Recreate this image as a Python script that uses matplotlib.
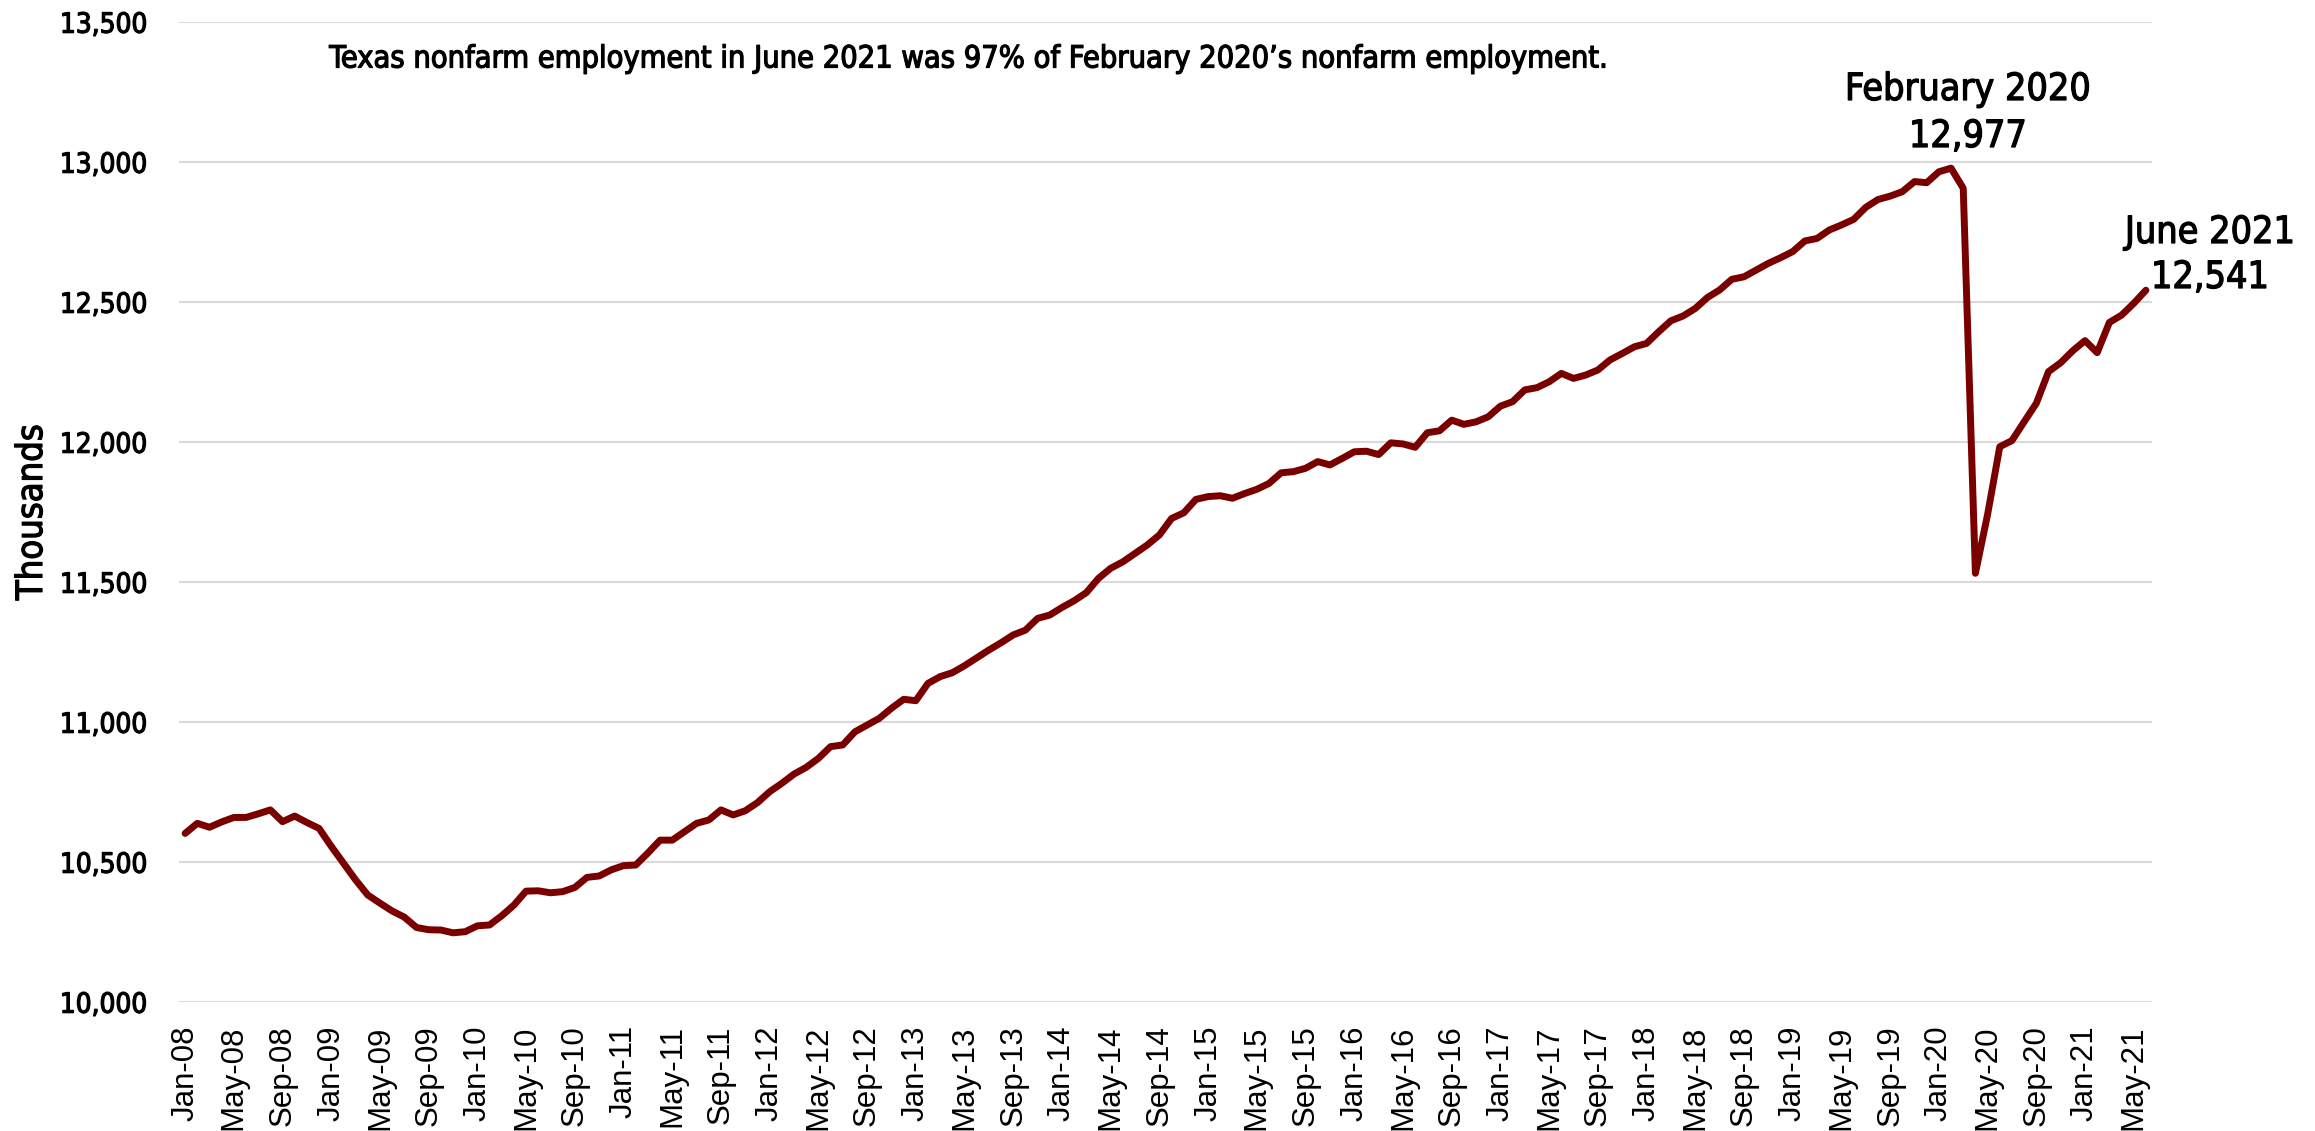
import matplotlib
matplotlib.use("Agg")
import matplotlib.pyplot as plt
import matplotlib.patheffects as pe
from matplotlib.font_manager import FontProperties

# ---- data (thousands, monthly Jan-2008 .. Jun-2021) ----
employment = [
    10601, 10637, 10623, 10642, 10658, 10658, 10671, 10685, 10643, 10663, 10640, 10619,  # 2008
    10555, 10495, 10435, 10381, 10352, 10324, 10302, 10265, 10257, 10256, 10246, 10250,  # 2009
    10271, 10274, 10307, 10345, 10395, 10396, 10389, 10393, 10408, 10444, 10449, 10471,  # 2010
    10486, 10488, 10531, 10577, 10577, 10607, 10637, 10649, 10685, 10667, 10682, 10711,  # 2011
    10750, 10780, 10813, 10837, 10869, 10911, 10917, 10964, 10988, 11012, 11048, 11080,  # 2012
    11075, 11137, 11161, 11175, 11200, 11228, 11256, 11282, 11310, 11327, 11369, 11381,  # 2013
    11408, 11432, 11461, 11512, 11548, 11571, 11601, 11631, 11667, 11726, 11746, 11794,  # 2014
    11804, 11807, 11798, 11815, 11830, 11851, 11889, 11893, 11905, 11929, 11917, 11940,  # 2015
    11964, 11966, 11954, 11996, 11992, 11980, 12032, 12039, 12077, 12062, 12071, 12089,  # 2016
    12127, 12143, 12185, 12193, 12214, 12244, 12226, 12238, 12256, 12292, 12315, 12339,  # 2017
    12351, 12393, 12432, 12449, 12476, 12515, 12542, 12580, 12589, 12613, 12637, 12657,  # 2018
    12679, 12717, 12726, 12756, 12774, 12794, 12837, 12865, 12877, 12893, 12929, 12925,  # 2019
    12964, 12977, 12905, 11530, 11740, 11982, 12004, 12071, 12137, 12250, 12282, 12325,  # 2020
    12361, 12318, 12426, 12452, 12494, 12541,                                            # 2021
]

tick_labels = [
    "Jan-08", "May-08", "Sep-08", "Jan-09", "May-09", "Sep-09", "Jan-10", "May-10",
    "Sep-10", "Jan-11", "May-11", "Sep-11", "Jan-12", "May-12", "Sep-12", "Jan-13",
    "May-13", "Sep-13", "Jan-14", "May-14", "Sep-14", "Jan-15", "May-15", "Sep-15",
    "Jan-16", "May-16", "Sep-16", "Jan-17", "May-17", "Sep-17", "Jan-18", "May-18",
    "Sep-18", "Jan-19", "May-19", "Sep-19", "Jan-20", "May-20", "Sep-20", "Jan-21",
    "May-21",
]
tick_step = 4

y_ticks = [10000, 10500, 11000, 11500, 12000, 12500, 13000, 13500]

title_text = "Texas nonfarm employment in June 2021 was 97% of February 2020\u2019s nonfarm employment."
peak_label = ("February 2020", "12,977")
last_label = ("June 2021", "12,541")

# ---- styling ----
LINE_COLOR = "#7A0000"
GRID_COLOR = "#D9D9D9"
W, H = 2315, 1131

din = dict(family="DejaVu Sans", stretch="condensed")
medium = [pe.withStroke(linewidth=0.9, foreground="black")]

fig = plt.figure(figsize=(W / 100, H / 100), dpi=100)
ax = fig.add_axes([179 / W, 1 - 1001.7 / H, (2152 - 179) / W, (1001.7 - 21.7) / H])

x = list(range(len(employment)))
ax.plot(x, employment, color=LINE_COLOR, linewidth=5.0, solid_joinstyle="round",
        solid_capstyle="round", zorder=3)

ax.set_xlim(-0.5, len(employment) - 0.5)
ax.set_ylim(10000, 13500)
ax.set_yticks(y_ticks)
ax.set_yticklabels([f"{v:,}" for v in y_ticks], fontproperties=FontProperties(size=20, **din))
for t in ax.get_yticklabels():
    t.set_path_effects(medium)
ax.set_xticks(list(range(0, len(employment), tick_step)))
ax.set_xticklabels(tick_labels, rotation=90, family="Liberation Sans", fontsize=22.5)
ax.tick_params(axis="y", length=0, pad=23)
ax.tick_params(axis="x", length=0, pad=17)

ax.yaxis.grid(True, color=GRID_COLOR, linewidth=1.5)
ax.set_axisbelow(True)
for s in ax.spines.values():
    s.set_visible(False)

fig.text(32 / W, 1 - 512 / H, "Thousands", rotation=90, ha="center", va="center",
         fontproperties=FontProperties(size=26, **din), path_effects=medium)

fig.text(969 / W, 1 - 59 / H, title_text, ha="center", va="center",
         fontproperties=FontProperties(size=22, **din), path_effects=medium)

fig.text(1968 / W, 1 - 90 / H, peak_label[0], ha="center", va="center",
         fontproperties=FontProperties(size=27, **din), path_effects=medium)
fig.text(1968 / W, 1 - 137 / H, peak_label[1], ha="center", va="center",
         fontproperties=FontProperties(size=27, **din), path_effects=medium)
fig.text(2210 / W, 1 - 233 / H, last_label[0], ha="center", va="center",
         fontproperties=FontProperties(size=27, **din), path_effects=medium)
fig.text(2210 / W, 1 - 278 / H, last_label[1], ha="center", va="center",
         fontproperties=FontProperties(size=27, **din), path_effects=medium)

fig.savefig("out.png", dpi=100, facecolor="white")
